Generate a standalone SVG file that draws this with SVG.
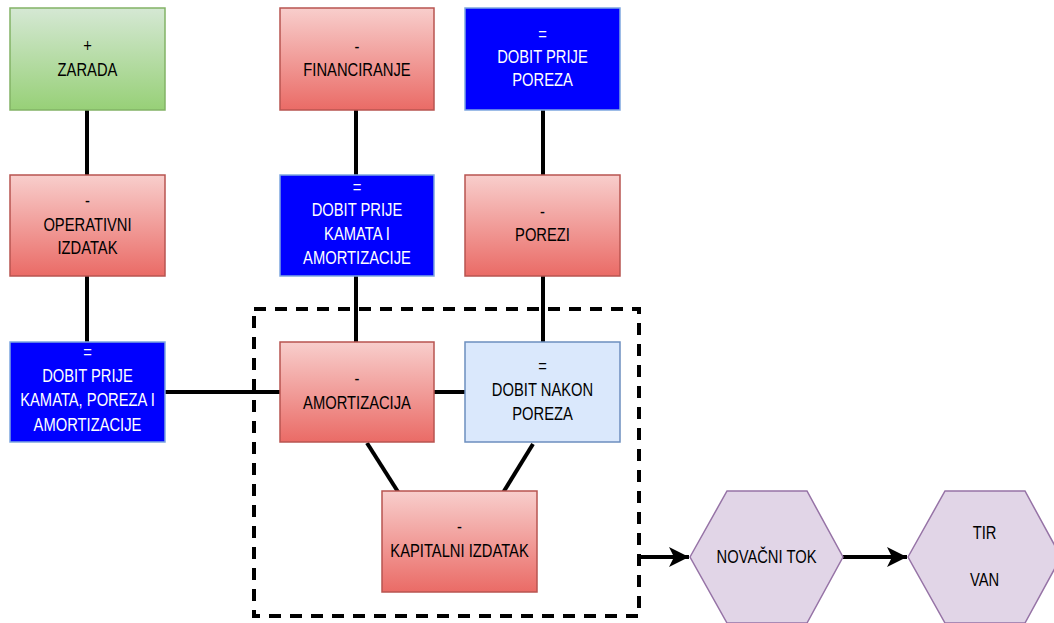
<svg xmlns="http://www.w3.org/2000/svg" width="1054" height="623" viewBox="0 0 1054 623">
<style>
.t{font-family:"Liberation Sans",Arial,sans-serif;font-size:18px;text-anchor:middle;fill:#000}
.w{fill:#fff}
.red{fill:url(#gr);stroke:#b85450;stroke-width:1.5}
.grn{fill:url(#gg);stroke:#82b366;stroke-width:1.5}
.blu{fill:#0000ff;stroke:#7ea6e0;stroke-width:1.5}
.lb{fill:#dae8fc;stroke:#6c8ebf;stroke-width:1.5}
.hex{fill:#e1d5e7;stroke:#9673a6;stroke-width:1.5}
.ln{stroke:#000;stroke-width:4;fill:none}
</style>
<defs>
<linearGradient id="gr" x1="0" y1="0" x2="0" y2="1"><stop offset="0" stop-color="#f8cecc"/><stop offset="1" stop-color="#ea6b66"/></linearGradient>
<linearGradient id="gg" x1="0" y1="0" x2="0" y2="1"><stop offset="0" stop-color="#d5e8d4"/><stop offset="1" stop-color="#97d077"/></linearGradient>
<marker id="ar" viewBox="0 0 10 10" refX="10" refY="5" markerWidth="5" markerHeight="5" orient="auto" markerUnits="strokeWidth"><path d="M0,0 L10,5 L0,10 L2.5,5 Z" fill="#000"/></marker>
</defs>
<rect x="254" y="309" width="385" height="307" fill="none" stroke="#000" stroke-width="4" stroke-dasharray="12 9"/>
<g id="connectors">
<line class="ln" x1="87" y1="110" x2="87" y2="175"/>
<line class="ln" x1="87" y1="276" x2="87" y2="342"/>
<line class="ln" x1="356" y1="110" x2="356" y2="175"/>
<line class="ln" x1="356" y1="276" x2="356" y2="342"/>
<line class="ln" x1="543" y1="110" x2="543" y2="175"/>
<line class="ln" x1="543" y1="276" x2="543" y2="342"/>
<line class="ln" x1="165" y1="392" x2="280" y2="392"/>
<line class="ln" x1="434" y1="392" x2="465" y2="392"/>
<line class="ln" x1="367" y1="443" x2="400" y2="495"/>
<line class="ln" x1="533" y1="444" x2="501" y2="496"/>
<line class="ln" x1="639" y1="557" x2="689" y2="557" marker-end="url(#ar)"/>
<line class="ln" x1="843" y1="557" x2="907" y2="557" marker-end="url(#ar)"/>
</g>
<g id="zarada"><rect class="grn" x="10" y="8" width="155" height="102"/>
<text class="t" transform="translate(87.5 0) scale(0.82 1)"><tspan x="0" y="52">+</tspan><tspan x="0" y="76">ZARADA</tspan></text></g>
<g id="financiranje"><rect class="red" x="280" y="8" width="154" height="102"/>
<text class="t" transform="translate(357 0) scale(0.82 1)"><tspan x="0" y="53">-</tspan><tspan x="0" y="76">FINANCIRANJE</tspan></text></g>
<g id="dobit-prije-poreza"><rect class="blu" x="465" y="8" width="155" height="102"/>
<text class="t w" transform="translate(542.5 0) scale(0.82 1)"><tspan x="0" y="40">=</tspan><tspan x="0" y="63">DOBIT PRIJE</tspan><tspan x="0" y="86">POREZA</tspan></text></g>
<g id="operativni"><rect class="red" x="10" y="175" width="155" height="101"/>
<text class="t" transform="translate(87.5 0) scale(0.82 1)"><tspan x="0" y="207">-</tspan><tspan x="0" y="231">OPERATIVNI</tspan><tspan x="0" y="254">IZDATAK</tspan></text></g>
<g id="dobit-prije-kamata-am"><rect class="blu" x="280" y="175" width="154" height="101"/>
<text class="t w" transform="translate(357 0) scale(0.82 1)"><tspan x="0" y="193">=</tspan><tspan x="0" y="216">DOBIT PRIJE</tspan><tspan x="0" y="240">KAMATA I</tspan><tspan x="0" y="264">AMORTIZACIJE</tspan></text></g>
<g id="porezi"><rect class="red" x="465" y="175" width="155" height="101"/>
<text class="t" transform="translate(542.5 0) scale(0.82 1)"><tspan x="0" y="218">-</tspan><tspan x="0" y="241">POREZI</tspan></text></g>
<g id="dobit-prije-kamata-poreza-am"><rect class="blu" x="10" y="342" width="155" height="100"/>
<text class="t w" transform="translate(87.5 0) scale(0.82 1)"><tspan x="0" y="358">=</tspan><tspan x="0" y="382">DOBIT PRIJE</tspan><tspan x="0" y="406">KAMATA, POREZA I</tspan><tspan x="0" y="431">AMORTIZACIJE</tspan></text></g>
<g id="amortizacija"><rect class="red" x="280" y="342" width="154" height="100"/>
<text class="t" transform="translate(357 0) scale(0.82 1)"><tspan x="0" y="385">-</tspan><tspan x="0" y="409">AMORTIZACIJA</tspan></text></g>
<g id="dobit-nakon-poreza"><rect class="lb" x="465" y="342" width="155" height="100"/>
<text class="t" transform="translate(542.5 0) scale(0.82 1)"><tspan x="0" y="372">=</tspan><tspan x="0" y="396">DOBIT NAKON</tspan><tspan x="0" y="420">POREZA</tspan></text></g>
<g id="kapitalni"><rect class="red" x="382" y="491" width="155" height="101"/>
<text class="t" transform="translate(459.5 0) scale(0.82 1)"><tspan x="0" y="533">-</tspan><tspan x="0" y="557">KAPITALNI IZDATAK</tspan></text></g>
<g id="novacni-tok"><polygon class="hex" points="690,557 727,491 807,491 843,557 807,623 727,623"/>
<text class="t" transform="translate(766.5 0) scale(0.82 1)"><tspan x="0" y="563">NOVAČNI TOK</tspan></text></g>
<g id="tir-van"><polygon class="hex" points="908,557 945,491 1025,491 1061,557 1025,623 945,623"/>
<text class="t" transform="translate(984.5 0) scale(0.82 1)"><tspan x="0" y="539">TIR</tspan><tspan x="0" y="586">VAN</tspan></text></g>
</svg>
